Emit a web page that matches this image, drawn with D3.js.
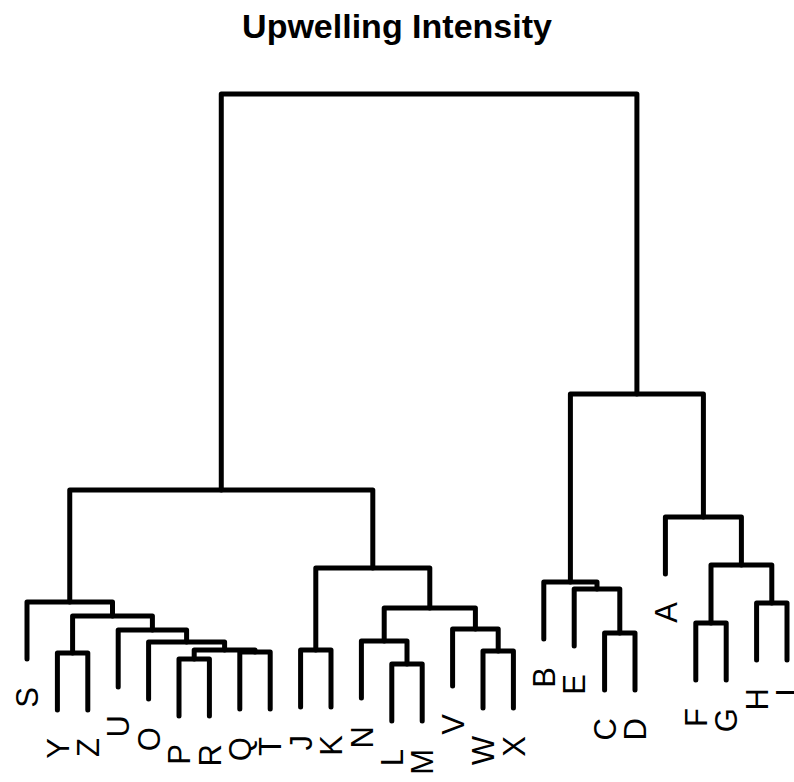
<!DOCTYPE html>
<html>
<head>
<meta charset="utf-8">
<script src="https://cdn.jsdelivr.net/npm/d3@7"></script>
<style>
  body { margin: 0; background: #fff; }
</style>
</head>
<body>
<svg></svg>
<script>
// leaf order as drawn, left to right
const labels = ["S", "Y", "Z", "U", "O", "P", "R", "Q", "T", "J", "K", "N", "L", "M",
                "V", "W", "X", "B", "E", "C", "D", "A", "F", "G", "H", "I"];

// merge steps: left, right, height. strings are leaves, numbers point to an earlier row
const mergeLeft  = ["L", "P", "Q", "Y", 1,    "W", "J", "O", "N", "C", "U", "V", "F", "E", 3,    "H", "S",  8,  "B", 6,    12,   "A", 16,   18,   22];
const mergeRight = ["M", "R", "T", "Z", 2,    "X", "K", 4,   0,   "D", 7,   5,   "G", 9,   10,   "I", 14,   11,  13,  17,   15,   20,  19,   21,   23];
const mergeHeight = [1.92, 2.02, 2.16, 2.14, 2.20, 2.18, 2.20, 2.36, 2.38, 2.54, 2.60, 2.62, 2.74, 3.42, 2.88,
                     3.14, 3.16, 3.04, 3.56, 3.84, 3.90, 4.86, 5.40, 7.32, 13.32];

const width = 794;
const height = 782;

const hMin = d3.min(mergeHeight);
const hMax = d3.max(mergeHeight);
const hang = 0.1 * (hMax - hMin);

// Scales
const xScale = d3.scalePoint()
    .domain(labels)
    .range([27, 787]);

const yScale = d3.scaleLinear()
    .domain([hMin - hang, hMax])
    .range([721, 94]);

const svg = d3.select("svg")
    .attr("width", width)
    .attr("height", height);

// x position and top of each node
const nodeX = [];
const pos = (c) => typeof c === "string" ? xScale(c) : nodeX[c];
mergeHeight.forEach((h, i) => {
  nodeX[i] = (pos(mergeLeft[i]) + pos(mergeRight[i])) / 2;
});
const nodeTop = (c, h) => typeof c === "string" ? h - hang : mergeHeight[c];

const links = mergeHeight.map((h, i) => ({
  x1: pos(mergeLeft[i]), y1: nodeTop(mergeLeft[i], h),
  x2: pos(mergeRight[i]), y2: nodeTop(mergeRight[i], h),
  h: h
}));

svg.append("g")
  .selectAll("path")
  .data(links)
  .enter()
  .append("path")
    .attr("d", d => `M${d.x1},${yScale(d.y1)}V${yScale(d.h)}H${d.x2}V${yScale(d.y2)}`)
    .attr("fill", "none")
    .attr("stroke", "#000")
    .attr("stroke-width", 5)
    .attr("stroke-linecap", "round")
    .attr("stroke-linejoin", "round");

// leaf labels, hanging below each leaf
const leafEnd = {};
mergeHeight.forEach((h, i) => {
  [mergeLeft[i], mergeRight[i]].forEach(c => {
    if (typeof c === "string") leafEnd[c] = h - hang;
  });
});

svg.append("g")
  .selectAll("text")
  .data(labels)
  .enter()
  .append("text")
    .attr("transform", d => `translate(${xScale(d)}, ${yScale(leafEnd[d]) + 28}) rotate(-90)`)
    .attr("text-anchor", "end")
    .attr("dy", "0.36em")
    .attr("font-family", "Liberation Sans, Arial, sans-serif")
    .attr("font-size", 31)
    .text(d => d);

svg.append("text")
    .text("Upwelling Intensity")
    .attr("x", width / 2)
    .attr("y", 38)
    .attr("text-anchor", "middle")
    .attr("font-family", "Liberation Sans, Arial, sans-serif")
    .attr("font-weight", "bold")
    .attr("font-size", 34);
</script>
</body>
</html>
